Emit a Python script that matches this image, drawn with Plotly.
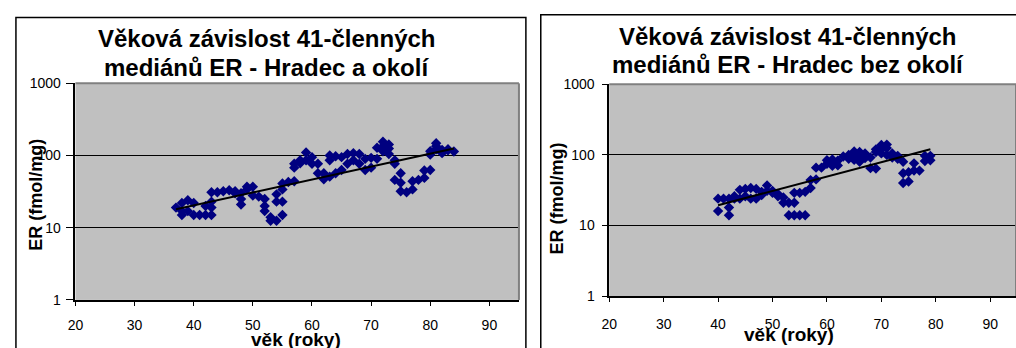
import numpy as np
import plotly.graph_objects as go

W, H = 1016, 348

# Hradec a okolí: age (years) and 41-member running median of ER (fmol/mg)
okoli_age = [37, 38, 38, 38, 39, 39, 40, 40, 41, 42, 42, 43, 43, 43, 43, 44, 45, 46, 47, 47,
             48, 48, 48, 49, 49, 50, 50, 51, 52, 52, 52, 53, 53, 54, 54, 54, 55, 55, 55, 55,
             56, 57, 57, 57, 58, 58, 59, 59, 60, 60, 61, 61, 62, 62, 63, 63, 63, 64, 64, 65,
             65, 66, 66, 67, 67, 68, 68, 69, 69, 70, 70, 71, 71, 72, 72, 72, 73, 73, 73, 74,
             74, 74, 75, 75, 75, 76, 77, 77, 78, 79, 79, 80, 80, 80, 81, 81, 81, 82, 82, 82,
             83, 83, 84]
okoli_er = [19, 22, 17, 15, 24, 17, 22, 15, 15, 20, 15, 31, 23, 19, 15, 31, 32, 33, 32, 30,
            30, 25, 21, 37, 34, 37, 28, 27, 25, 20, 17, 14, 12.5, 12.5, 23, 29, 15, 23, 34, 41,
            43, 44, 68, 77, 78, 86, 110, 86, 95, 77, 77, 57, 57, 47, 51, 100, 86, 98, 57, 95,
            63, 105, 77, 108, 86, 105, 77, 90, 63, 93, 68, 128, 90, 155, 135, 115, 142, 125, 105, 86,
            77, 46, 57, 42, 32, 31, 34, 44, 46, 49, 62, 63, 115, 103, 148, 135, 122, 108, 115, 120,
            122, 118, 114]

# Hradec bez okolí
bez_age = [40, 40, 41, 42, 42, 42, 43, 43, 44, 44, 45, 45, 46, 46, 47, 47, 48, 48, 49, 49,
           50, 50, 51, 51, 52, 52, 53, 53, 54, 54, 54, 55, 55, 56, 56, 57, 57, 58, 58, 59,
           60, 60, 61, 61, 61, 62, 62, 63, 64, 64, 65, 65, 65, 66, 66, 66, 67, 67, 68, 68,
           69, 69, 69, 70, 70, 70, 71, 71, 71, 72, 72, 73, 73, 74, 74, 74, 75, 75, 76, 76,
           77, 78, 78, 79, 79]
bez_er = [16, 24, 24, 24, 18, 14, 24, 26, 32, 24, 33, 26, 34, 24, 33, 24, 30, 27, 37, 31,
          31, 29, 28, 26, 25, 21, 21, 14, 29, 14, 21, 29, 14, 30, 14, 34, 44, 66, 45, 66,
          84, 75, 86, 76, 70, 83, 71, 95, 100, 88, 112, 100, 85, 110, 95, 80, 105, 90, 65, 92,
          64, 120, 110, 138, 120, 105, 140, 125, 100, 105, 92, 97, 88, 80, 55, 40, 57, 42, 76, 60,
          60, 82, 97, 97, 84]

titles = [("Věková závislost 41-členných", "mediánů ER - Hradec a okolí"),
          ("Věková závislost 41-členných", "mediánů ER - Hradec bez okolí")]
y_ticks = [1, 10, 100, 1000]
x_ticks = [20, 30, 40, 50, 60, 70, 80, 90]

FONT = "Arial, Liberation Sans, sans-serif"
NAVY = "#000080"


def px(x):
    return x / W


def py(y):
    return 1 - y / H


def trend(ages, vals):
    # exponential trendline: least squares on log10 of the values
    a, b = np.polyfit(np.array(ages, float), np.log10(np.array(vals, float)), 1)
    xs = np.array([min(ages), max(ages)], float)
    return xs, 10 ** (a * xs + b)


fig = go.Figure()

panels = [
    dict(age=okoli_age, er=okoli_er, xa="x", ya="y"),
    dict(age=bez_age, er=bez_er, xa="x2", ya="y2"),
]
for p in panels:
    fig.add_trace(go.Scatter(x=p["age"], y=p["er"], mode="markers", xaxis=p["xa"], yaxis=p["ya"],
                             marker=dict(symbol="diamond", size=8, color=NAVY, line=dict(width=0)),
                             showlegend=False))
    tx, ty = trend(p["age"], p["er"])
    fig.add_trace(go.Scatter(x=tx, y=ty, mode="lines", xaxis=p["xa"], yaxis=p["ya"],
                             line=dict(color="black", width=2), showlegend=False))

# plot-area geometry (pixels)
geo = [
    dict(x0=68, x1=515, top=79, bot=306, xr=[20, 95], tl=8, ys=2, xs=8),
    dict(x0=606, x1=1016, top=80, bot=302, xr=[20, 20 + (1016 - 606) / 54.86 * 10], tl=5, ys=5, xs=10),
]


def xaxis(g, anchor):
    return dict(domain=[px(g["x0"]), px(g["x1"])], range=g["xr"], anchor=anchor,
                tickvals=x_ticks, ticktext=[str(t) for t in x_ticks],
                showgrid=False, zeroline=False, showline=True, linecolor="black", linewidth=1.5,
                ticks="outside", ticklen=4, tickcolor="black", tickwidth=1,
                ticklabelstandoff=g["xs"],
                tickfont=dict(family=FONT, size=14, color="black"))


def yaxis(g, anchor):
    return dict(domain=[py(g["bot"]), py(g["top"])], type="log", range=[0, 3], anchor=anchor,
                tickvals=y_ticks, ticktext=[str(t) for t in y_ticks],
                showgrid=True, gridcolor="black", gridwidth=1, zeroline=False,
                showline=True, linecolor="black", linewidth=1.5,
                ticks="outside", ticklen=g["tl"], tickcolor="black", tickwidth=1,
                ticklabelstandoff=g["ys"],
                tickfont=dict(family=FONT, size=14, color="black"))


shapes = []
for g in geo:
    # grey top and right edges of the plot area
    shapes.append(dict(type="line", xref="paper", yref="paper", x0=px(g["x0"]), x1=px(g["x1"]),
                       y0=py(g["top"]), y1=py(g["top"]), line=dict(color="#808080", width=2)))
    shapes.append(dict(type="line", xref="paper", yref="paper", x0=px(g["x1"]), x1=px(g["x1"]),
                       y0=py(g["top"]), y1=py(g["bot"]), line=dict(color="#808080", width=2)))

# chart frames
shapes.append(dict(type="rect", xref="paper", yref="paper", x0=px(8), x1=px(522), y0=-0.2,
                   y1=py(10), line=dict(color="black", width=1.5)))
shapes.append(dict(type="rect", xref="paper", yref="paper", x0=px(537), x1=1.2, y0=-0.2,
                   y1=py(7), line=dict(color="black", width=1.5)))

annotations = []
title_pos = [(261, 32, 62), (786, 30, 59)]
for (l1, l2), (cx, y1, y2) in zip(titles, title_pos):
    for txt, yy in ((l1, y1), (l2, y2)):
        annotations.append(dict(text=f"<b>{txt}</b>", xref="paper", yref="paper", x=px(cx), y=py(yy),
                                xanchor="center", yanchor="middle", showarrow=False,
                                font=dict(family=FONT, size=24, color="black")))

for cx, cy in ((28, 196), (553, 200)):
    annotations.append(dict(text="<b>ER (fmol/mg)</b>", xref="paper", yref="paper", x=px(cx), y=py(cy),
                            xanchor="center", yanchor="middle", textangle=-90, showarrow=False,
                            font=dict(family=FONT, size=18, color="black")))

for cx, cy in ((290, 347), (787, 342)):
    annotations.append(dict(text="<b>věk (roky)</b>", xref="paper", yref="paper", x=px(cx), y=py(cy),
                            xanchor="center", yanchor="middle", showarrow=False,
                            font=dict(family=FONT, size=19, color="black")))

fig.update_layout(
    width=W, height=H, margin=dict(l=0, r=0, t=0, b=0),
    paper_bgcolor="white", plot_bgcolor="#C0C0C0",
    xaxis=xaxis(geo[0], "y"), yaxis=yaxis(geo[0], "x"),
    xaxis2=xaxis(geo[1], "y2"), yaxis2=yaxis(geo[1], "x2"),
    shapes=shapes, annotations=annotations,
)

fig.write_html("out.html")
